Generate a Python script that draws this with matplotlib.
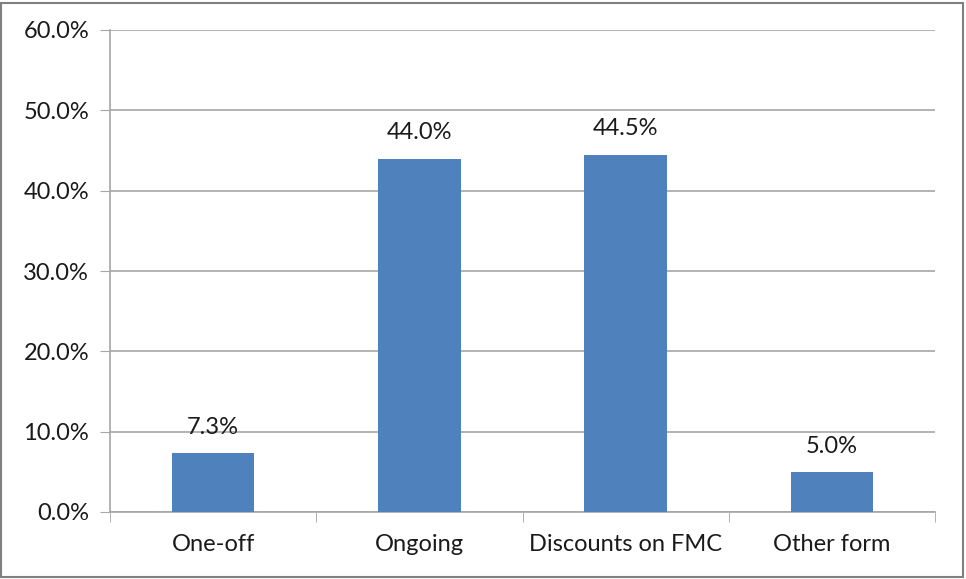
import matplotlib
matplotlib.use("Agg")
import matplotlib.pyplot as plt
from matplotlib.patches import Rectangle
from matplotlib.ticker import FuncFormatter, MultipleLocator

categories = ["One-off", "Ongoing", "Discounts on FMC", "Other form"]
values = [7.3, 44.0, 44.5, 5.0]

plt.rcParams['font.family'] = ['Lato', 'DejaVu Sans']
FS = 17
TXT = "#1a1a1a"
GRID = "#a6a6a6"

fig = plt.figure(figsize=(9.66, 5.79), dpi=100)
ax = fig.add_axes([110/966, 1-512/579, (935-110)/966, (512-30)/579])

x = list(range(len(categories)))
ax.bar(x, values, width=0.4, color="#4F81BD", zorder=3)
for xi, v in zip(x, values):
    ax.annotate(f"{v:.1f}%", (xi, v), xytext=(0, 11), textcoords="offset points",
                ha="center", va="bottom", fontsize=FS, color=TXT)

ax.set_xlim(-0.5, len(categories) - 0.5)
ax.set_ylim(0, 60)
ax.yaxis.set_major_locator(MultipleLocator(10))
ax.yaxis.set_major_formatter(FuncFormatter(lambda v, p: f"{v:.1f}%"))
ax.set_xticks(x)
ax.set_xticklabels(categories)
ax.set_xticks([i + 0.5 for i in range(-1, len(categories))], minor=True)
ax.tick_params(axis="x", which="major", length=0, labelsize=FS, pad=16, colors=TXT)
ax.tick_params(axis="x", which="minor", length=7, color=GRID)
ax.tick_params(axis="y", length=7, color=GRID, labelsize=FS, labelcolor=TXT, pad=8)
ax.grid(axis="y", color=GRID, linewidth=1.2, zorder=0)
for s in ["top", "right"]:
    ax.spines[s].set_visible(False)
for s in ["left", "bottom"]:
    ax.spines[s].set_color(GRID)
    ax.spines[s].set_linewidth(1.2)

fig.patches.append(Rectangle((1/966, 2/579), 962/966, 574/579, transform=fig.transFigure,
                             fill=False, edgecolor="#808080", linewidth=1.5))
fig.savefig("out.png", dpi=100)
